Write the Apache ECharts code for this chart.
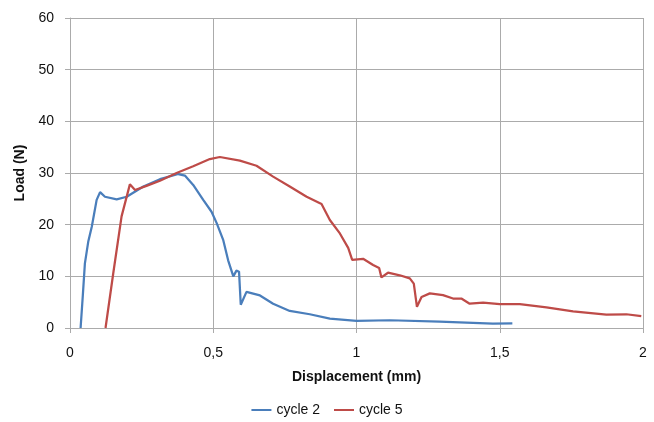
<!DOCTYPE html>
<html>
<head>
<meta charset="utf-8">
<script src="https://cdn.jsdelivr.net/npm/echarts@6/dist/echarts.min.js"></script>
<style>
  html, body { margin: 0; padding: 0; background: #fff; }
  #chart { width: 654px; height: 422px; }
</style>
</head>
<body>
<div id="chart"></div>
<script>
// Load-displacement data
const cycle2X = [0.037, 0.045, 0.052, 0.064, 0.076, 0.093, 0.105, 0.122, 0.163, 0.198, 0.256, 0.314, 0.378, 0.401, 0.43, 0.465, 0.494, 0.512, 0.535, 0.552, 0.57, 0.581, 0.59, 0.596, 0.616, 0.663, 0.709, 0.767, 0.837, 0.907, 1.0, 1.116, 1.29, 1.476, 1.544];
const cycle2Y = [0, 6.5, 12.5, 16.8, 19.6, 24.8, 26.3, 25.4, 24.9, 25.4, 27.4, 28.8, 29.8, 29.5, 27.7, 24.8, 22.5, 20.3, 17.0, 13.1, 10.0, 11.1, 10.9, 4.5, 7.0, 6.3, 4.7, 3.3, 2.66, 1.8, 1.4, 1.5, 1.24, 0.85, 0.9];

const cycle5X = [0.124, 0.151, 0.18, 0.209, 0.227, 0.267, 0.314, 0.372, 0.43, 0.488, 0.523, 0.593, 0.651, 0.709, 0.767, 0.826, 0.878, 0.907, 0.942, 0.971, 0.985, 1.023, 1.058, 1.079, 1.087, 1.11, 1.151, 1.186, 1.2, 1.211, 1.227, 1.256, 1.302, 1.337, 1.366, 1.395, 1.442, 1.5, 1.57, 1.663, 1.756, 1.872, 1.942, 1.994];
const cycle5Y = [0, 10.6, 21.6, 27.8, 26.7, 27.5, 28.5, 30.0, 31.3, 32.7, 33.1, 32.4, 31.4, 29.3, 27.4, 25.4, 24.0, 20.9, 18.3, 15.5, 13.2, 13.4, 12.2, 11.6, 9.8, 10.7, 10.2, 9.6, 8.6, 4.1, 6.0, 6.7, 6.35, 5.7, 5.7, 4.7, 4.9, 4.6, 4.6, 4.0, 3.2, 2.6, 2.66, 2.3];

const xTicks = [0, 0.5, 1, 1.5, 2];
const yTicks = [0, 10, 20, 30, 40, 50, 60];

const pairs = (xs, ys) => xs.map((x, i) => [x, ys[i]]);
const font = 'Liberation Sans';
const gridColor = '#ababab';

const chart = echarts.init(document.getElementById('chart'));
chart.setOption({
  animation: false,
  textStyle: { fontFamily: font },
  grid: { left: 70, right: 11, top: 18, bottom: 94 },
  xAxis: {
    type: 'value',
    min: xTicks[0],
    max: xTicks[xTicks.length - 1],
    interval: 0.5,
    name: 'Displacement (mm)',
    nameLocation: 'middle',
    nameGap: 42,
    nameTextStyle: { fontSize: 14, fontWeight: 'bold', color: '#111' },
    axisLine: { lineStyle: { color: gridColor } },
    axisTick: { show: true, length: 5, lineStyle: { color: gridColor } },
    axisLabel: {
      fontSize: 14, color: '#111', margin: 18,
      formatter: v => String(v).replace('.', ',')
    },
    splitLine: { lineStyle: { color: gridColor } }
  },
  yAxis: {
    type: 'value',
    min: yTicks[0],
    max: yTicks[yTicks.length - 1],
    interval: 10,
    name: 'Load (N)',
    nameLocation: 'middle',
    nameGap: 37,
    nameTextStyle: { fontSize: 14, fontWeight: 'bold', color: '#111' },
    axisLine: { show: true, lineStyle: { color: gridColor } },
    axisTick: { show: true, length: 5, lineStyle: { color: gridColor } },
    axisLabel: { fontSize: 14, color: '#111', margin: 16 },
    splitLine: { lineStyle: { color: gridColor } }
  },
  legend: {
    bottom: 0,
    left: 'center',
    icon: 'rect',
    itemWidth: 20,
    itemHeight: 2,
    itemGap: 14,
    textStyle: { fontSize: 14, color: '#111' },
    data: ['cycle 2', 'cycle 5']
  },
  series: [
    {
      name: 'cycle 2', type: 'line', showSymbol: false,
      color: '#4a7ebb', lineStyle: { width: 2.25 },
      data: pairs(cycle2X, cycle2Y)
    },
    {
      name: 'cycle 5', type: 'line', showSymbol: false,
      color: '#be4b48', lineStyle: { width: 2.25 },
      data: pairs(cycle5X, cycle5Y)
    }
  ]
});
</script>
</body>
</html>
